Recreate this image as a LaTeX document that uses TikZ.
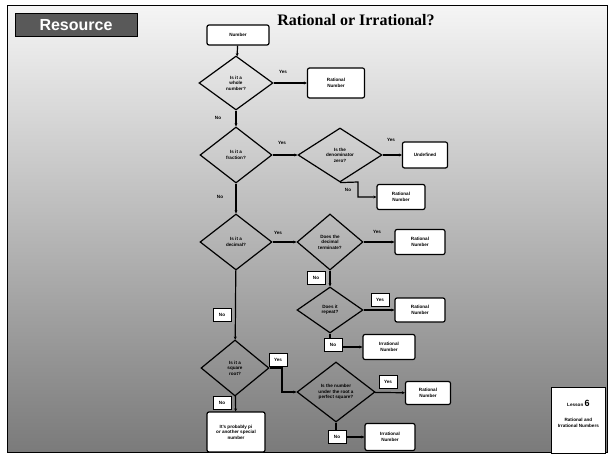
\documentclass[tikz,border=0pt]{standalone}
\usepackage{fontspec}
\setmainfont{Liberation Serif}
\setsansfont{Liberation Sans}
\usetikzlibrary{shapes.geometric,arrows.meta}
\begin{document}
\begin{tikzpicture}[x=1pt,y=-1pt,
  txt/.style={font=\sffamily\bfseries\fontsize{4.6}{5.6}\selectfont},
  box/.style={txt,draw,line width=1.2pt,fill=white,rounded corners=2pt,align=center,inner sep=0pt},
  dia/.style={txt,draw,line width=1.2pt,diamond,align=center,inner sep=0pt},
  lab/.style={txt,inner sep=1pt},
  blab/.style={lab,draw,fill=white,line width=0.6pt,minimum width=18pt,minimum height=13pt},
  con/.style={line width=1.2pt,-{Stealth[length=3pt,width=3pt]}}]
% background and frame
\fill[white] (0,0) rectangle (610,454);
\shade[top color=black!4, middle color=black!22, bottom color=black!52] (7,6) rectangle (607,452);
\draw[line width=1pt] (7,6) rectangle (607,452);
% header
\node[fill=black!65,draw=black,line width=1pt,minimum width=122pt,minimum height=23pt,inner sep=0pt,
      text=white,font=\sffamily\bfseries\fontsize{16}{16}\selectfont] (res) at (76,25.5) {Resource};
\node[font=\bfseries\fontsize{16}{16}\selectfont,inner sep=0pt] (title) at (356,20) {Rational or Irrational?};
% nodes
\node[box,minimum width=62pt,minimum height=20pt] (start) at (238,35) {Number};
\node[dia,minimum width=74pt,minimum height=54pt] (d1) at (236,83) {Is it a\\whole\\number?};
\node[box,minimum width=57pt,minimum height=30pt] (b1) at (336,83) {Rational\\Number};
\node[dia,minimum width=72pt,minimum height=56pt] (d2) at (236,155) {Is it a\\fraction?};
\node[dia,minimum width=84pt,minimum height=54pt] (d3) at (340,155) {Is the\\denominator\\zero?};
\node[box,minimum width=45pt,minimum height=26pt] (b2) at (425,155) {Undefined};
\node[box,minimum width=48pt,minimum height=25pt] (b3) at (401,197) {Rational\\Number};
\node[dia,minimum width=72pt,minimum height=56pt] (d4) at (236,242) {Is it a\\decimal?};
\node[dia,minimum width=66pt,minimum height=56pt] (d5) at (330,242) {Does the\\decimal\\terminate?};
\node[box,minimum width=50pt,minimum height=25pt] (b4) at (420,242) {Rational\\Number};
\node[dia,minimum width=66pt,minimum height=46pt] (d6) at (330,310) {Does it\\repeat?};
\node[box,minimum width=50pt,minimum height=24pt] (b5) at (420,310) {Rational\\Number};
\node[box,minimum width=52pt,minimum height=25pt] (b6) at (389,347) {Irrational\\Number};
\node[dia,minimum width=68pt,minimum height=56pt] (d7) at (235,368) {Is it a\\square\\root?};
\node[dia,minimum width=78pt,minimum height=60pt] (d8) at (336,392) {Is the number\\under the root a\\perfect square?};
\node[box,minimum width=45pt,minimum height=23pt] (b7) at (428,393) {Rational\\Number};
\node[box,minimum width=50pt,minimum height=27pt] (b8) at (390,437) {Irrational\\Number};
\node[box,minimum width=58pt,minimum height=40pt] (b9) at (236,432) {It's probably pi\\or another special\\number};
\node[box,rounded corners=0pt,minimum width=54pt,minimum height=66pt,anchor=north east] (corner) at (606,387)
  {Lesson {\fontsize{9}{9}\selectfont\bfseries 6}\\[9pt]Rational and\\Irrational Numbers\\[8pt]};
% connectors
\draw[con] (start) -- (d1);
\draw[con] (d1) -- (b1);
\draw[con] (d1) -- (d2);
\draw[con] (d2) -- (d3);
\draw[con] (d3) -- (b2);
\coordinate (c3) at (358,182);
\draw[con] (d3.south) -- (c3) |- (b3.west);
\draw[con] (d2) -- (d4);
\draw[con] (d4) -- (d5);
\draw[con] (d5) -- (b4);
\draw[con] (d5) -- (d6);
\draw[con] (d6) -- (b5);
\draw[con] (d6.south) |- (b6.west);
\draw[con] (d4) -- (d7);
\coordinate (c7) at (282,368);
\draw[con] (d7.east) -- (c7) |- (d8.west);
\draw[con] (d8) -- (b7);
\draw[con] (d8.south) |- (b8.west);
\draw[con] (d7) -- (b9);
% labels
\node[lab] (l1) at (283,72) {Yes};
\node[lab] (l2) at (218,118) {No};
\node[lab] (l3) at (282,143) {Yes};
\node[lab] (l4) at (391,140) {Yes};
\node[lab] (l5) at (348,190) {No};
\node[lab] (l6) at (220,197) {No};
\node[lab] (l7) at (278,233) {Yes};
\node[lab] (l8) at (377,232) {Yes};
\node[blab] (l9) at (316,278) {No};
\node[blab] (l10) at (380,300) {Yes};
\node[blab] (l11) at (333,345) {No};
\node[blab] (l12) at (222,315) {No};
\node[blab] (l13) at (278,360) {Yes};
\node[blab] (l14) at (388,382) {Yes};
\node[blab] (l15) at (337,437) {No};
\node[blab] (l16) at (222,403) {No};
\end{tikzpicture}
\end{document}
